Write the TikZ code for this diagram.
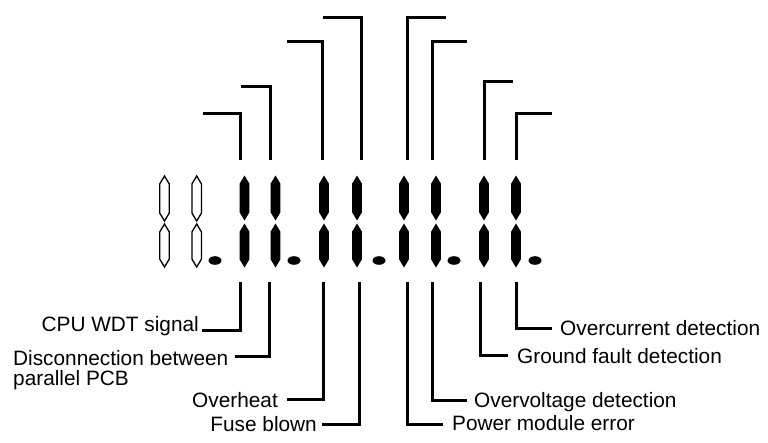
\documentclass[tikz,border=0pt]{standalone}
\usepackage{fontspec}
\setmainfont{Liberation Sans}
% one lcd segment: style, x, top y, bottom y
\newcommand{\lcdseg}[4]{\path[#1] (#2,#3) -- (#2+4.8,#3+8) -- (#2+4.8,#4-8) -- (#2,#4) -- (#2-4.8,#4-8) -- (#2-4.8,#3+8) -- cycle;}
\begin{document}
\begin{tikzpicture}[x=1pt, y=-1pt,
    segon/.style={fill=black},
    segoff/.style={draw=black, line width=1.3pt, fill=white},
    lead/.style={line width=3pt},
    lbl/.style={font=\fontsize{20.8}{20}\selectfont, inner ysep=0pt, align=left}]
    \useasboundingbox (0,0) rectangle (768,442);

    % display
    \foreach \x in {164.5,196.7} {\lcdseg{segoff}{\x}{176}{221} \lcdseg{segoff}{\x}{224}{267}}
    \foreach \x in {244.5,275.5,324,357,404,436,484,516} {\lcdseg{segon}{\x}{175.5}{220.5} \lcdseg{segon}{\x}{223.5}{267.5}}
    \foreach \x in {215,294,379,454,535} \fill (\x,260.5) ellipse [x radius=6.5, y radius=4.3];

    % upper leaders
    \foreach \x/\y/\e in {240/113/203, 270/86/241, 322/41/287, 361/17/323,
                          407/17/446, 432/41/467, 484/81/513, 516/113/552}
        \draw[lead] (\x,160) |- (\e,\y);

    % labels
    \node[lbl, anchor=base east, inner xsep=3pt] (cpu) at (202,331) {CPU WDT signal};
    \node[lbl, anchor=north west, inner xsep=7pt] (disc) at (6,350) {Disconnection between\\parallel PCB};
    \node[lbl, anchor=base east, inner xsep=9pt] (heat) at (287,407) {Overheat};
    \node[lbl, anchor=base east, inner xsep=5pt] (fuse) at (322,431) {Fuse blown};
    \node[lbl, anchor=base west, inner xsep=9pt] (pwr) at (443,430) {Power module error};
    \node[lbl, anchor=base west, inner xsep=7pt] (ovv) at (467,407) {Overvoltage detection};
    \node[lbl, anchor=base west, inner xsep=9pt] (gnd) at (508,363) {Ground fault detection};
    \node[lbl, anchor=base west, inner xsep=8pt] (ovc) at (552,335) {Overcurrent detection};

    % lower leaders
    \foreach \n/\a/\x/\y in {cpu/east/240/330, disc/east/269/356, heat/east/323/399, fuse/east/359/424,
                             pwr/west/407/424, ovv/west/432/400, gnd/west/480/355, ovc/west/516/328}
        \draw[lead] (\x,282) -- (\x,\y) -- (\n.\a |- \x,\y);
\end{tikzpicture}
\end{document}
